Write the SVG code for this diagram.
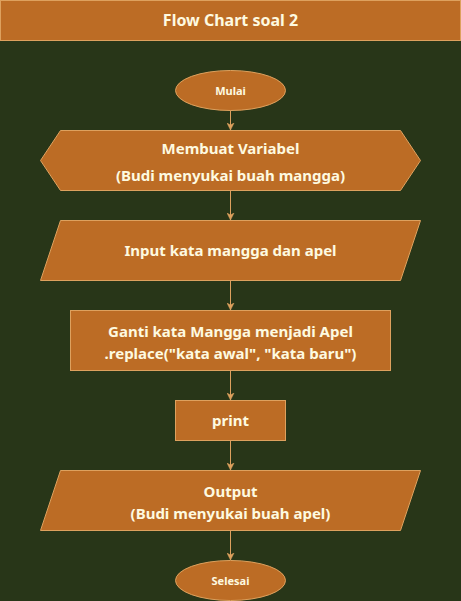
<svg xmlns="http://www.w3.org/2000/svg" width="461" height="601" viewBox="0 0 461 601">
<style>
.s{fill:#BC6C25;stroke:#DDA15E;stroke-width:1}
.t{font-family:"Comic Sans MS","Noto Sans",sans-serif;font-weight:bold;fill:#FEFAE0;text-anchor:middle}
.c{stroke:#DDA15E;stroke-width:1;fill:none}
</style>
<defs>
<marker id="a" markerWidth="8" markerHeight="8" refX="7" refY="4" orient="auto" markerUnits="userSpaceOnUse">
<path d="M0,0.5 L7,4 L0,7.5 L2,4 Z" fill="#DDA15E" stroke="#DDA15E" stroke-width="0.5"/>
</marker>
</defs>
<rect width="461" height="601" fill="#283618"/>
<g id="title"><rect class="s" x="0.5" y="0.5" width="460" height="40"/><text class="t" x="230.5" y="26" font-size="16">Flow Chart soal 2</text></g>
<g id="mulai"><ellipse class="s" cx="230.5" cy="90.5" rx="55" ry="20"/><text class="t" x="230.5" y="94.5" font-size="11">Mulai</text></g>
<g id="variabel"><path class="s" d="M40.5,160.5 L60.5,130.5 L400.5,130.5 L420.5,160.5 L400.5,190.5 L60.5,190.5 Z"/><text class="t" x="230.5" y="154" font-size="15">Membuat Variabel</text><text class="t" x="230.5" y="181" font-size="15">(Budi menyukai buah mangga)</text></g>
<g id="input"><path class="s" d="M60.5,220.5 L420.5,220.5 L400.5,280.5 L40.5,280.5 Z"/><text class="t" x="230.5" y="256" font-size="15">Input kata mangga dan apel</text></g>
<g id="ganti"><rect class="s" x="70.5" y="310.5" width="320" height="60"/><text class="t" x="230.5" y="337" font-size="15">Ganti kata Mangga menjadi Apel</text><text class="t" x="230.5" y="359" font-size="15">.replace("kata awal", "kata baru")</text></g>
<g id="print"><rect class="s" x="175.5" y="400.5" width="110" height="40"/><text class="t" x="230.5" y="426" font-size="15">print</text></g>
<g id="output"><path class="s" d="M60.5,470.5 L420.5,470.5 L400.5,530.5 L40.5,530.5 Z"/><text class="t" x="230.5" y="497" font-size="15">Output</text><text class="t" x="230.5" y="519" font-size="15">(Budi menyukai buah apel)</text></g>
<g id="selesai"><ellipse class="s" cx="230.5" cy="580.5" rx="55" ry="20"/><text class="t" x="230.5" y="584.5" font-size="11">Selesai</text></g>
<g id="connectors">
<line class="c" x1="230.5" y1="110.5" x2="230.5" y2="130" marker-end="url(#a)"/>
<line class="c" x1="230.5" y1="190.5" x2="230.5" y2="220" marker-end="url(#a)"/>
<line class="c" x1="230.5" y1="280.5" x2="230.5" y2="310" marker-end="url(#a)"/>
<line class="c" x1="230.5" y1="370.5" x2="230.5" y2="400" marker-end="url(#a)"/>
<line class="c" x1="230.5" y1="440.5" x2="230.5" y2="470" marker-end="url(#a)"/>
<line class="c" x1="230.5" y1="530.5" x2="230.5" y2="560" marker-end="url(#a)"/>
</g>
</svg>
